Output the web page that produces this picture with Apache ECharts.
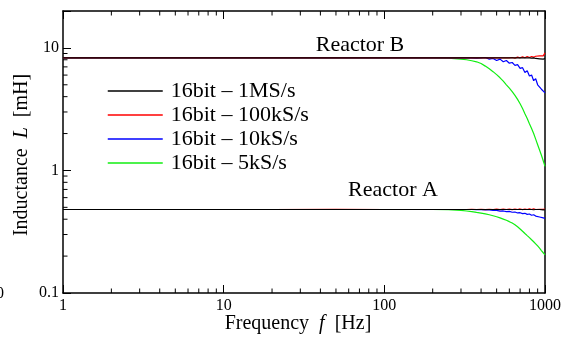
<!DOCTYPE html>
<html>
<head>
	<meta charset="utf-8" />
	<title>Inductance vs frequency</title>
	<script src="https://cdn.jsdelivr.net/npm/echarts@6/dist/echarts.min.js"></script>
	<style>
		html, body { margin: 0; padding: 0; background: #fff; }
		#main { width: 567px; height: 344px; }
	</style>
</head>
<body>
	<div id="main"></div>
	<script type="text/javascript">
		// frequency points [Hz]
		var freq = [1, 2, 5, 10, 20, 50, 100, 150, 200, 250,
			300, 325, 350, 375, 400, 425, 450, 475, 500, 525, 550, 575, 600, 625, 650,
			675, 700, 725, 750, 775, 800, 825, 850, 875, 900, 925, 950, 975, 1000];

		// Reactor B [mH]
		var b1M = [8.3, 8.3, 8.3, 8.3, 8.3, 8.3, 8.3, 8.3, 8.3, 8.3,
			8.3, 8.3, 8.3, 8.3, 8.3, 8.3, 8.3, 8.3, 8.3, 8.3, 8.3, 8.3, 8.3, 8.3, 8.3,
			8.3, 8.3, 8.3, 8.3, 8.3, 8.3, 8.25, 8.3, 8.2, 8.3, 8.15, 8.25, 8.1, 8.2];
		var b100k = [8.3, 8.3, 8.3, 8.3, 8.3, 8.3, 8.3, 8.3, 8.3, 8.3,
			8.3, 8.3, 8.3, 8.3, 8.3, 8.3, 8.3, 8.3, 8.3, 8.3, 8.3, 8.3, 8.3, 8.35, 8.25,
			8.4, 8.3, 8.45, 8.3, 8.5, 8.35, 8.5, 8.4, 8.55, 8.4, 8.6, 8.45, 8.6, 9.1];
		var b10k = [8.3, 8.3, 8.3, 8.3, 8.3, 8.3, 8.3, 8.3, 8.3, 8.3,
			8.3, 8.3, 8.3, 8.25, 8.3, 8.35, 8.1, 8.2, 7.9, 8.1, 7.7, 7.9, 7.5, 7.6, 7.2,
			7.3, 6.8, 6.9, 6.3, 6.5, 5.9, 6.0, 5.4, 5.6, 5.0, 5.1, 4.6, 4.7, 4.3];
		var b5k = [8.3, 8.3, 8.3, 8.3, 8.3, 8.3, 8.3, 8.3, 8.3, 8.25,
			8.1, 8.0, 7.85, 7.7, 7.45, 7.1, 6.75, 6.4, 6.05, 5.7, 5.35, 5.0, 4.7, 4.4, 4.1,
			3.8, 3.5, 3.2, 2.9, 2.65, 2.4, 2.2, 2.0, 1.8, 1.62, 1.47, 1.33, 1.2, 1.08];

		// Reactor A [mH]
		var a1M = [0.48, 0.48, 0.48, 0.48, 0.48, 0.48, 0.48, 0.48, 0.48, 0.48,
			0.48, 0.48, 0.48, 0.48, 0.48, 0.48, 0.48, 0.48, 0.48, 0.48, 0.48, 0.48, 0.48, 0.48, 0.48,
			0.48, 0.48, 0.48, 0.48, 0.48, 0.48, 0.48, 0.478, 0.48, 0.477, 0.48, 0.478, 0.476, 0.478];
		var a100k = [0.48, 0.48, 0.48, 0.48, 0.48, 0.482, 0.48, 0.48, 0.48, 0.48,
			0.48, 0.48, 0.482, 0.48, 0.482, 0.479, 0.482, 0.48, 0.483, 0.479, 0.483, 0.48, 0.484, 0.479, 0.484,
			0.48, 0.485, 0.479, 0.485, 0.48, 0.486, 0.48, 0.486, 0.48, 0.487, 0.481, 0.487, 0.481, 0.484];
		var a10k = [0.48, 0.48, 0.48, 0.48, 0.48, 0.48, 0.48, 0.48, 0.48, 0.48,
			0.48, 0.48, 0.48, 0.479, 0.478, 0.476, 0.476, 0.471, 0.472, 0.466, 0.467, 0.461, 0.463, 0.456, 0.458,
			0.45, 0.452, 0.444, 0.447, 0.438, 0.441, 0.431, 0.435, 0.424, 0.428, 0.417, 0.42, 0.41, 0.406];
		var a5k = [0.48, 0.48, 0.48, 0.48, 0.48, 0.48, 0.48, 0.48, 0.48, 0.478,
			0.472, 0.467, 0.462, 0.455, 0.449, 0.442, 0.435, 0.427, 0.419, 0.41, 0.401, 0.392, 0.382, 0.372, 0.361,
			0.347, 0.333, 0.319, 0.306, 0.294, 0.283, 0.272, 0.262, 0.252, 0.242, 0.232, 0.222, 0.213, 0.205];

		// minor tick positions
		var xMinor = [2, 3, 4, 5, 6, 7, 8, 9, 20, 30, 40, 50, 60, 70, 80, 90,
			200, 300, 400, 500, 600, 700, 800, 900];
		var yMinor = [0.2, 0.3, 0.4, 0.5, 0.6, 0.7, 0.8, 0.9, 2, 3, 4, 5, 6, 7, 8, 9];

		var X_MIN = 1, X_MAX = 1000, Y_MIN = 0.1, Y_MAX = 20;
		var FONT = '"Liberation Serif", "Times New Roman", serif';

		function pairs(vals) {
			var out = [];
			for (var i = 0; i < freq.length; i++) {
				out.push([freq[i], vals[i]]);
			}
			return out;
		}

		function line(name, color, vals) {
			return {
				name: name,
				type: 'line',
				data: pairs(vals),
				showSymbol: false,
				symbol: 'none',
				lineStyle: { color: color, width: 1.2 },
				itemStyle: { color: color },
				z: 3
			};
		}

		var myChart = echarts.init(document.getElementById('main'));

		// minor ticks on bottom and top x axes
		var minorTickSeries = {
			type: 'custom',
			silent: true,
			clip: false,
			data: xMinor.map(function (v) { return [v]; }),
			renderItem: function (params, api) {
				var f = api.value(0);
				var pb = api.coord([f, Y_MIN]);
				var pt = api.coord([f, Y_MAX]);
				var st = { stroke: '#000', lineWidth: 1 };
				return {
					type: 'group',
					children: [
						{ type: 'line', shape: { x1: pb[0], y1: pb[1], x2: pb[0], y2: pb[1] - 4.5 }, style: st },
						{ type: 'line', shape: { x1: pt[0], y1: pt[1], x2: pt[0], y2: pt[1] + 4.5 }, style: st }
					]
				};
			},
			z: 5
		};

		// minor ticks on left y axis
		var yMinorTickSeries = {
			type: 'custom',
			silent: true,
			clip: false,
			data: yMinor.map(function (v) { return [v]; }),
			renderItem: function (params, api) {
				var v = api.value(0);
				var p = api.coord([X_MIN, v]);
				return {
					type: 'line',
					shape: { x1: p[0], y1: p[1], x2: p[0] + 4.5, y2: p[1] },
					style: { stroke: '#000', lineWidth: 1 }
				};
			},
			z: 5
		};

		function decadeLabel(v) {
			var l = Math.log(v) / Math.LN10;
			if (Math.abs(l - Math.round(l)) > 1e-6) return '';
			return String(Math.pow(10, Math.round(l)));
		}

		var option = {
			animation: false,
			backgroundColor: '#fff',
			textStyle: { fontFamily: FONT },
			grid: { left: 63, right: 22, top: 11, bottom: 51 },
			legend: {
				data: ['16bit \u2013 1MS/s', '16bit \u2013 100kS/s', '16bit \u2013 10kS/s', '16bit \u2013 5kS/s'],
				orient: 'vertical',
				left: 107,
				top: 80,
				padding: 0,
				itemWidth: 55,
				itemHeight: 14,
				itemGap: 2,
				itemStyle: { opacity: 0 },
				lineStyle: { width: 1.5 },
				textStyle: { fontFamily: FONT, fontSize: 22, color: '#000', padding: [0, 0, 0, 3] }
			},
			xAxis: [{
				type: 'log',
				logBase: 10,
				min: X_MIN,
				max: X_MAX,
				position: 'bottom',
				axisLine: { onZero: false, lineStyle: { color: '#000', width: 1.5 } },
				axisTick: { inside: true, length: 8, lineStyle: { color: '#000', width: 1 } },
				axisLabel: { color: '#000', fontSize: 16, fontFamily: FONT, margin: 5, formatter: decadeLabel },
				splitLine: { show: false }
			}, {
				type: 'log',
				logBase: 10,
				min: X_MIN,
				max: X_MAX,
				position: 'top',
				axisLine: { onZero: false, lineStyle: { color: '#000', width: 1.5 } },
				axisTick: { inside: true, length: 8, lineStyle: { color: '#000', width: 1 } },
				axisLabel: { show: false },
				splitLine: { show: false }
			}],
			yAxis: [{
				type: 'log',
				logBase: 10,
				min: Y_MIN,
				max: Y_MAX,
				position: 'left',
				axisLine: { onZero: false, lineStyle: { color: '#000', width: 1.5 } },
				axisTick: { inside: true, length: 8, lineStyle: { color: '#000', width: 1 } },
				axisLabel: { color: '#000', fontSize: 16, fontFamily: FONT, margin: 4, formatter: decadeLabel },
				splitLine: { show: false }
			}, {
				type: 'log',
				logBase: 10,
				min: Y_MIN,
				max: Y_MAX,
				position: 'right',
				axisLine: { onZero: false, lineStyle: { color: '#000', width: 1.5 } },
				axisTick: { show: false },
				axisLabel: { show: false },
				splitLine: { show: false }
			}],
			graphic: [{
				type: 'text',
				x: 360, y: 45,
				style: { text: 'Reactor B', font: '22px ' + FONT, fill: '#000', align: 'center', verticalAlign: 'middle' }
			}, {
				type: 'text',
				x: 393, y: 190,
				style: { text: 'Reactor A', font: '22px ' + FONT, fill: '#000', align: 'center', verticalAlign: 'middle' }
			}, {
				type: 'text',
				x: 298, y: 324,
				style: {
					text: '{a|Frequency  }{i|f}{a|  [Hz]}',
					align: 'center', verticalAlign: 'middle',
					rich: {
						a: { fontFamily: FONT, fontSize: 20, fill: '#000' },
						i: { fontFamily: FONT, fontSize: 20, fontStyle: 'italic', fill: '#000' }
					}
				}
			}, {
				type: 'text',
				x: 22, y: 155,
				rotation: Math.PI / 2,
				style: {
					text: '{a|Inductance  }{i|L}{a|  [mH]}',
					align: 'center', verticalAlign: 'middle',
					rich: {
						a: { fontFamily: FONT, fontSize: 20, fill: '#000' },
						i: { fontFamily: FONT, fontSize: 20, fontStyle: 'italic', fill: '#000' }
					}
				}
			}, {
				type: 'text',
				x: -4, y: 294,
				style: { text: '0', font: '16px ' + FONT, fill: '#000', verticalAlign: 'middle' }
			}],
			series: [
				line('16bit \u2013 5kS/s', '#11ee11', b5k),
				line('16bit \u2013 10kS/s', '#0000ff', b10k),
				line('16bit \u2013 100kS/s', '#ff0000', b100k),
				line('16bit \u2013 1MS/s', '#000000', b1M),
				line('16bit \u2013 5kS/s', '#11ee11', a5k),
				line('16bit \u2013 10kS/s', '#0000ff', a10k),
				line('16bit \u2013 100kS/s', '#ff0000', a100k),
				line('16bit \u2013 1MS/s', '#000000', a1M),
				minorTickSeries,
				yMinorTickSeries
			]
		};

		myChart.setOption(option);
		window.onresize = myChart.resize;
	</script>
</body>
</html>
